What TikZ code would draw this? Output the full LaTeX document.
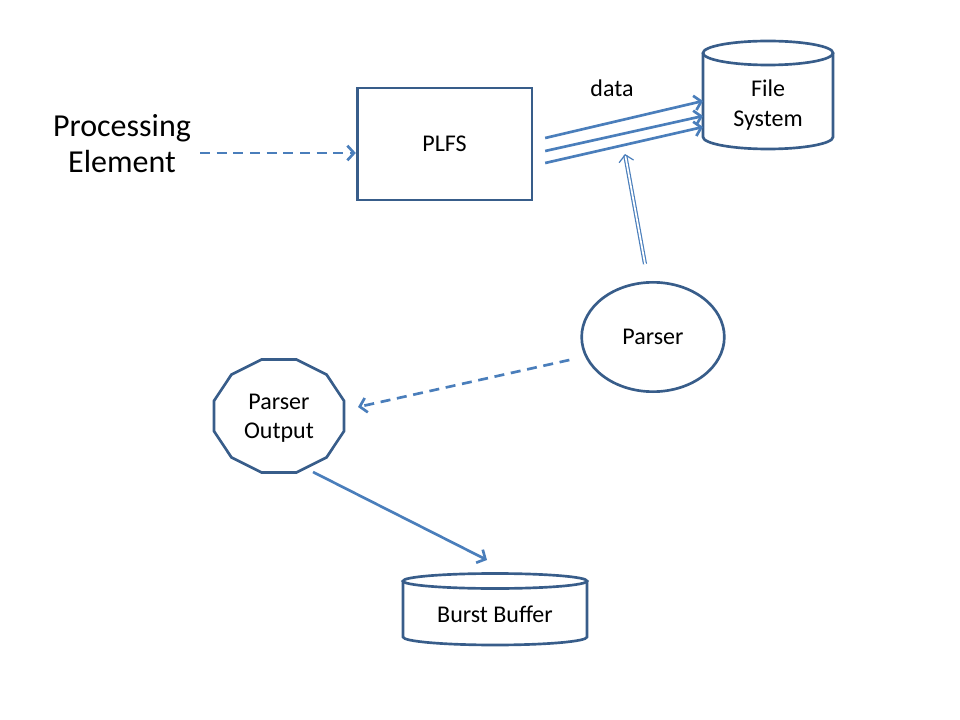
\documentclass[tikz,border=0pt]{standalone}
\usepackage{fontspec}
\setmainfont{Carlito}
\usetikzlibrary{arrows.meta,shapes.geometric}
\definecolor{shapeblue}{HTML}{385D8A}
\definecolor{lineblue}{HTML}{4A7EBB}

\begin{document}
\begin{tikzpicture}[x=0.75pt,y=0.75pt,
        box/.style = {draw=shapeblue, line width=2pt},
        txt/.style = {font=\fontsize{18}{22}\selectfont, align=center},
        link/.style = {draw=lineblue, line width=2pt, -{Straight Barb[length=5pt,width=11pt]}},
        dashlink/.style = {link, dash pattern=on 7.5pt off 5pt},
        dbl/.style = {draw=lineblue, line width=0.9pt, double=white, double distance=1.3pt, -{Straight Barb[length=5pt,width=11pt]}}]
        \useasboundingbox (0,0) rectangle (960,-720);
        % cylinders
        \draw[box] (703,-53) -- (703,-137) arc[start angle=180,end angle=360,x radius=65,y radius=12] -- (833,-53);
        \draw[box] (768,-53) ellipse[x radius=65,y radius=12];
        \draw[box] (403,-581) -- (403,-637) arc[start angle=180,end angle=360,x radius=92,y radius=8] -- (587,-581);
        \draw[box] (495,-581) ellipse[x radius=92,y radius=7.5];
        % twelve sided output
        \draw[box,shift={(279,-416)}] plot[samples=13,domain=15:375] (\x:67.3 and 58.5) -- cycle;
        \node[txt,font=\fontsize{24}{27}\selectfont] (pe) at (122,-144) {Processing\\Element};
        \node[box,txt,minimum width=131pt,minimum height=84pt] (plfs) at (444.5,-144) {PLFS};
        \node[txt] (fs) at (768,-105) {File\\System};
        \node[box,txt,ellipse,minimum width=107pt,minimum height=82pt] (parser) at (653,-337) {Parser};
        \node[txt] (out) at (279,-418) {Parser\\Output};
        \node[txt] (bb) at (495,-614) {Burst Buffer};
        \node[txt] (data) at (612,-88) {data};
        % arrows
        \draw[dashlink] ([shift={(78,-9)}]pe.center) -- ([shift={(0,-9)}]plfs.west);
        \foreach \a/\b in {6/4,-7/-11,-19/-22}
            \draw[link] ([shift={(12,\a)}]plfs.east) -- ([shift={(-65,\b)}]fs.center);
        \draw[dbl] ([shift={(-8,17)}]parser.north) -- ([shift={(-28,127)}]parser.north);
        \draw[dashlink] ([shift={(-11,-23)}]parser.west) -- ([shift={(79,11)}]out.center);
        \draw[link] ([shift={(34,-54)}]out.center) -- ([shift={(-8,54)}]bb.center);
\end{tikzpicture}
\end{document}
